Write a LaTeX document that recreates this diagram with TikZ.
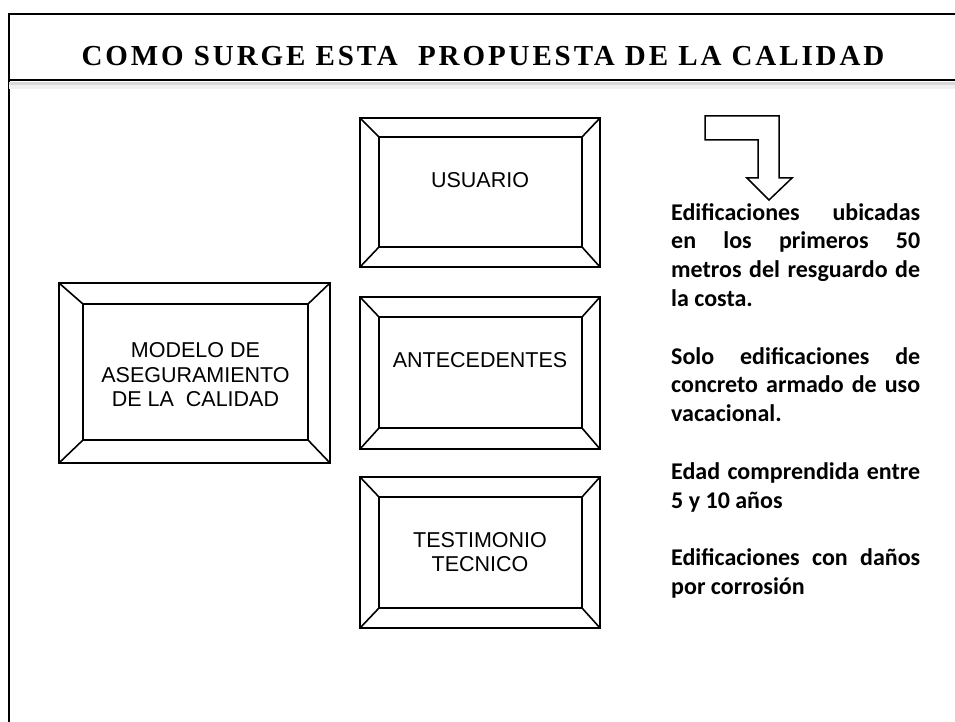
\documentclass[tikz,border=0pt]{standalone}
\usepackage{fontspec}
\setmainfont{Liberation Serif}
\setsansfont{Liberation Sans}
\newfontfamily\calibri{Carlito}
\newfontfamily\titlefont[LetterSpace=10]{Liberation Serif}
\usetikzlibrary{positioning,calc}

\begin{document}
\begin{tikzpicture}[x=1pt, y=-1pt,
    outerbox/.style={draw, line width=2.4pt, inner sep=0pt, outer sep=0pt},
    innerbox/.style={draw, line width=2.2pt, inner sep=0pt, outer sep=0pt},
    bevel/.style={line width=1.6pt},
    boxtext/.style={font=\sffamily\fontsize{21.5}{24.5}\selectfont, align=center, inner sep=0pt}]
    \useasboundingbox (0,0) rectangle (955,722);

    \draw[line width=2.4pt, line join=miter] (955,14) -- (9,14) -- (9,722);
    \draw[gray!30, line width=3pt] (9,83.5) -- (955,83.5);
    \draw[gray!12, line width=4pt] (9,87) -- (955,87);
    \draw[line width=2.2pt] (9,80) -- (955,80);
    \node[font=\titlefont\bfseries\fontsize{29}{29}\selectfont, inner sep=0pt] (title) at (483,56) {COMO SURGE ESTA\ \ PROPUESTA DE LA CALIDAD};

    \node[outerbox, minimum width=271, minimum height=180] (modO) at (194.5,373) {};
    \node[innerbox, minimum width=225, minimum height=136] (modI) at (195.5,372) {};
    \node[outerbox, minimum width=240, minimum height=149] (usrO) at (480,192.5) {};
    \node[innerbox, minimum width=203, minimum height=110] (usrI) at (480.5,192) {};
    \node[outerbox, minimum width=240, minimum height=152] (antO) at (480,373) {};
    \node[innerbox, minimum width=203, minimum height=111] (antI) at (480.5,372.5) {};
    \node[outerbox, minimum width=240, minimum height=151] (tesO) at (480,552.5) {};
    \node[innerbox, minimum width=203, minimum height=111] (tesI) at (480.5,552.5) {};

    \foreach \b in {mod,usr,ant,tes}
        \foreach \c in {north west,north east,south west,south east}
            \draw[bevel] (\b O.\c) -- (\b I.\c);

    \node[boxtext] (mod) at (195.5,375) {MODELO DE\\ASEGURAMIENTO\\DE LA\ \ CALIDAD};
    \node[boxtext] (usr) at (480,180) {USUARIO};
    \node[boxtext] (ant) at (480,360) {ANTECEDENTES};
    \node[boxtext] (tes) at (480,552) {TESTIMONIO\\TECNICO};

    \draw[line width=1.5pt, line join=miter] (705,116) -- (779,116) -- (779,178) -- (792,178)
        -- (769,200) -- (747,178) -- (758,178) -- (758,140) -- (705,140) -- cycle;

    \node[anchor=north west, text width=249, align=justify, inner sep=0pt,
          font=\calibri\bfseries\fontsize{24}{28.8}\selectfont] (crit) at (671,203)
        {\hyphenpenalty=10000 Edificaciones ubicadas\linebreak en los primeros 50\linebreak metros del resguardo de\linebreak la costa.\par\vspace{28.8pt}
         Solo edificaciones de\linebreak concreto armado de uso\linebreak vacacional.\par\vspace{28.8pt}
         Edad comprendida entre\linebreak 5 y 10 años\par\vspace{28.8pt}
         Edificaciones con daños\linebreak por corrosión\par};
\end{tikzpicture}
\end{document}
